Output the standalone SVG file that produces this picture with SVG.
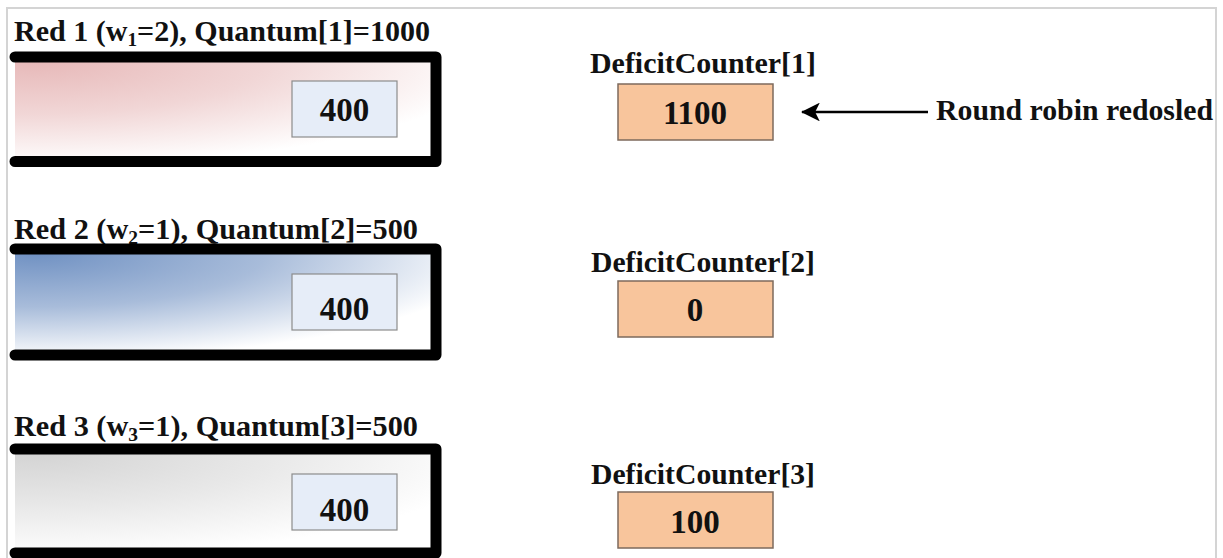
<svg xmlns="http://www.w3.org/2000/svg" width="1223" height="558" viewBox="0 0 1223 558">
  <defs>
    <radialGradient id="gRed" cx="0.05" cy="0" r="1.1">
      <stop offset="0" stop-color="#e7b9b9"/>
      <stop offset="0.5" stop-color="#f1d6d6"/>
      <stop offset="1" stop-color="#ffffff"/>
    </radialGradient>
    <radialGradient id="gBlue" cx="0.05" cy="0" r="1.1">
      <stop offset="0" stop-color="#7192c3"/>
      <stop offset="0.5" stop-color="#a8bcda"/>
      <stop offset="1" stop-color="#ffffff"/>
    </radialGradient>
    <radialGradient id="gGrey" cx="0.05" cy="0" r="1.1">
      <stop offset="0" stop-color="#d4d4d4"/>
      <stop offset="0.5" stop-color="#e8e8e8"/>
      <stop offset="1" stop-color="#ffffff"/>
    </radialGradient>
    <marker id="arr" viewBox="0 0 10 10" refX="9.5" refY="5" markerWidth="8.5" markerHeight="7.5" markerUnits="strokeWidth" orient="auto">
      <path d="M0,0 L10,5 L0,10 L2.5,5 z" fill="#000"/>
    </marker>
  </defs>
  <style>
    .t{font-family:"Liberation Serif","Times New Roman",serif;font-weight:bold;fill:#111;}
    .title{font-size:29.5px;}
    .lbl{font-size:30px;text-anchor:middle;}
    .num{font-size:33px;text-anchor:middle;}
    .queue{fill:none;stroke:#000;stroke-width:11;stroke-linejoin:round;stroke-linecap:round;}
    .pkt{fill:#e6edf8;stroke:#8c8c8c;stroke-width:1.2;}
    .dc{fill:#f8c59c;stroke:#7d6a5c;stroke-width:1.5;}
  </style>
  <rect x="7" y="8" width="1209" height="560" fill="#ffffff" stroke="#d4d4d4" stroke-width="2"/>

  <g id="queue1">
    <text class="t title" x="14" y="41" textLength="416" lengthAdjust="spacingAndGlyphs">Red 1 (w<tspan font-size="19" dy="5">1</tspan><tspan dy="-5">=2), Quantum[1]=1000</tspan></text>
    <rect x="15" y="62" width="416" height="94" fill="url(#gRed)"/>
    <path class="queue" d="M15,57 H436 V161.5 H15"/>
    <rect class="pkt" x="292" y="81" width="105" height="56"/>
    <text class="t num" x="344.5" y="121">400</text>
  </g>

  <g id="queue2">
    <text class="t title" x="14" y="239" textLength="404" lengthAdjust="spacingAndGlyphs">Red 2 (w<tspan font-size="19" dy="5">2</tspan><tspan dy="-5">=1), Quantum[2]=500</tspan></text>
    <rect x="15" y="254" width="416" height="96" fill="url(#gBlue)"/>
    <path class="queue" d="M15,249 H436 V355 H15"/>
    <rect class="pkt" x="292" y="274" width="105" height="56"/>
    <text class="t num" x="344.5" y="320">400</text>
  </g>

  <g id="queue3">
    <text class="t title" x="14" y="436" textLength="404" lengthAdjust="spacingAndGlyphs">Red 3 (w<tspan font-size="19" dy="5">3</tspan><tspan dy="-5">=1), Quantum[3]=500</tspan></text>
    <rect x="15" y="454" width="416" height="94" fill="url(#gGrey)"/>
    <path class="queue" d="M15,449 H436 V553 H15"/>
    <rect class="pkt" x="292" y="474" width="105" height="56"/>
    <text class="t num" x="344.5" y="521">400</text>
  </g>

  <g id="dc1">
    <text class="t lbl" x="703" y="73" textLength="226" lengthAdjust="spacingAndGlyphs">DeficitCounter[1]</text>
    <rect class="dc" x="618" y="84" width="155" height="56"/>
    <text class="t num" x="695" y="124">1100</text>
  </g>

  <g id="dc2">
    <text class="t lbl" x="703" y="272" textLength="224" lengthAdjust="spacingAndGlyphs">DeficitCounter[2]</text>
    <rect class="dc" x="618" y="281" width="155" height="56"/>
    <text class="t num" x="695" y="321">0</text>
  </g>

  <g id="dc3">
    <text class="t lbl" x="703" y="484" textLength="224" lengthAdjust="spacingAndGlyphs">DeficitCounter[3]</text>
    <rect class="dc" x="618" y="492" width="155" height="56"/>
    <text class="t num" x="695" y="533">100</text>
  </g>

  <g id="rr">
    <text class="t" x="936" y="120" font-size="29.5" textLength="277" lengthAdjust="spacingAndGlyphs">Round robin redosled</text>
  </g>

  <g id="connectors">
    <line x1="928" y1="112" x2="802" y2="112" stroke="#000" stroke-width="2.5" marker-end="url(#arr)"/>
  </g>
</svg>
